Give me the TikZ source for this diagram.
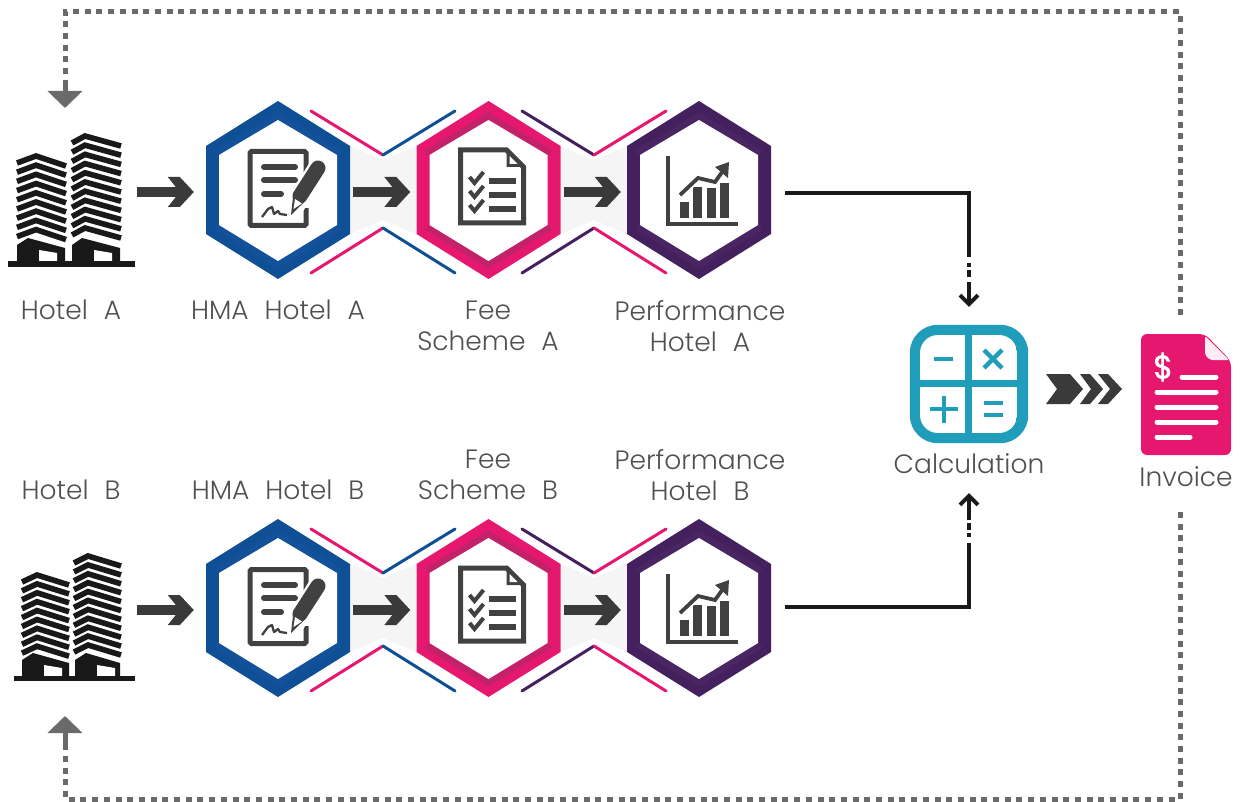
\documentclass[tikz,border=0pt]{standalone}
\usepackage{fontspec}
\setmainfont[WordSpace=2.2]{Poppins Light}
\usetikzlibrary{arrows.meta,calc}
\definecolor{cblue}{HTML}{0F4F96}
\definecolor{cblued}{HTML}{13529A}
\definecolor{cpink}{HTML}{E6176F}
\definecolor{cpinkd}{HTML}{C2226A}
\definecolor{cpurple}{HTML}{45205F}
\definecolor{cpurpled}{HTML}{4A2563}
\definecolor{cteal}{HTML}{1F9DBB}
\definecolor{cdark}{HTML}{3A3A3A}
\definecolor{cicon}{HTML}{414141}
\definecolor{cloop}{HTML}{6A6A6A}
\definecolor{ctext}{HTML}{505050}
\pgfdeclarearrow{name=BlockChev,
  setup code={\pgfarrowssettipend{0pt}\pgfarrowssetlineend{-9pt}\pgfarrowssetbackend{-26pt}\pgfarrowshullpoint{0pt}{0pt}},
  drawing code={\pgfpathmoveto{\pgfqpoint{0pt}{0pt}}
   \pgfpathlineto{\pgfqpoint{-14pt}{15pt}}\pgfpathlineto{\pgfqpoint{-26pt}{15pt}}
   \pgfpathlineto{\pgfqpoint{-14pt}{0pt}}\pgfpathlineto{\pgfqpoint{-26pt}{-15pt}}
   \pgfpathlineto{\pgfqpoint{-14pt}{-15pt}}\pgfpathclose\pgfusepathqfill}}
\tikzset{
  lbl/.style={font=\fontsize{26.5}{31.5}\selectfont,text=ctext,align=center,inner sep=0pt},
  anchorbox/.style={inner sep=0pt,minimum width=#1,minimum height=4pt},
  flow/.style={draw=cdark,line width=10pt,-{BlockChev}},
  feed/.style={draw=black!90,line width=3.4pt},
  feedtip/.style={draw=black!90,line width=3.4pt,-{Straight Barb[length=9pt,width=18pt,line width=3.8pt]}},
  loopline/.style={draw=cloop,line width=5pt,dash pattern=on 6pt off 5.7pt},
  looptip/.style={draw=cloop,line width=5pt,-{Triangle[length=17pt,width=34pt]}},
  bowline/.style={line width=3pt,line cap=round},
}
\newcommand{\hexring}[4]{%
  \fill[#3] (#1,#2-89)--(#1+72,#2-44)--(#1+72,#2+44)--(#1,#2+89)--(#1-72,#2+44)--(#1-72,#2-44)--cycle;
  \draw[#4,line width=6pt] (#1-62,#2-37)--(#1,#2-74)--(#1+62,#2-37);
  \draw[#4,line width=6pt] (#1-62,#2+37)--(#1,#2+75)--(#1+62,#2+37);
  \fill[white] (#1,#2-70)--(#1+59,#2-35)--(#1+59,#2+35)--(#1,#2+71)--(#1-59,#2+35)--(#1-59,#2-35)--cycle;}
\newcommand{\hexjoin}[4]{%
  \fill[black!4] (#1-33,#2-44)--(#1,#2-30)--(#1+33,#2-44)--(#1+33,#2+44)--(#1,#2+30)--(#1-33,#2+44)--cycle;
  \draw[bowline,#3] (#1-72,#2-79)--(#1,#2-35);
  \draw[bowline,#4] (#1,#2-35)--(#1+72,#2-79);
  \draw[bowline,#3] (#1-72,#2+83)--(#1,#2+38);
  \draw[bowline,#4] (#1,#2+38)--(#1+72,#2+83);}
\newcommand{\tower}[6]{%
  \foreach \k in {1,...,#5}{
    \pgfmathsetmacro{\yy}{#4+(\k-1)*#6}
    \draw[black!90,line width=5.6pt,miter limit=6] (#1,\yy+7)--(#2,\yy)--(#3,\yy+10);}}
\newcommand{\towerbase}[6]{%
  \fill[black!90] (#1,#4+7)--(#2,#4)--(#3,#4+10)--(#3,#5)--(#1,#5)--cycle;
  \fill[white] (#6,#5-12)--(#6+18,#5-9)--(#6+18,#5)--(#6,#5)--cycle;}
\newcommand{\iconhma}[2]{%
  \begin{scope}[shift={(#1,#2)}]
  \draw[cicon,line width=5pt,rounded corners=1.5pt,fill=white] (-28,-35.5)--(28,-35.5)--(28,38.5)--(-28,38.5)--cycle;
  \foreach \yy/\xx in {-20/17,-7/17,7/3} \draw[cicon,line width=6pt,line cap=round] (-14,\yy)--(\xx,\yy);
  \draw[white,line width=20pt] (40,-19)--(16,20);
  \fill[white] (25,0) rectangle (31,21);
  \draw[cicon,line width=15pt,line cap=round] (40,-19)--(22,9);
  \fill[cicon] (28.4,13)--(15.6,5)--(13,28)--cycle;
  \fill[white] (15.5,22)--(17,12)--(24,16.5)--cycle;
  \draw[cicon,line width=2.3pt,line join=round] (-16,30)--(-10,22)--(-6,20)--(-4,27)--(0,24)--(2,27)--(9,28);
  \end{scope}}
\newcommand{\iconfee}[2]{%
  \begin{scope}[shift={(#1,#2)}]
  \draw[cicon,line width=5pt,fill=white] (-28,-38)--(18,-38)--(35,-21)--(35,35)--(-28,35)--cycle;
  \fill[cicon] (18,-38)--(18,-21)--(35,-21)--cycle;
  \fill[white] (21,-32)--(21,-24)--(29,-24)--cycle;
  \foreach \yy in {-7,7,21}{
    \draw[cicon,line width=4pt] (-19,\yy-4)--(-14,\yy+2)--(-5,\yy-9);
    \draw[cicon,line width=5.4pt] (0,\yy)--(27,\yy);}
  \end{scope}}
\newcommand{\iconperf}[2]{%
  \begin{scope}[shift={(#1,#2)}]
  \draw[cicon,line width=3.8pt] (-31,-35)--(-31,33)--(39,33);
  \foreach \xx/\yy in {-19/11,-6/-4,8/-3,21/-8} \fill[cicon] (\xx,27)rectangle(\xx+9,\yy);
  \draw[white,line width=7.5pt] (-19,4)--(-1,-13)--(16,-9)--(26,-23);
  \draw[cicon,line width=3.8pt] (-19,4)--(-1,-13)--(16,-9)--(26,-23);
  \fill[cicon] (30,-29)--(16,-24)--(29,-13)--cycle;
  \end{scope}}
\begin{document}
\begin{tikzpicture}[x=1pt,y=-1pt]
\useasboundingbox (0,0) rectangle (1244,802);
\hexjoin{383}{190}{cpink}{cblue}
\hexjoin{594}{190}{cpurple}{cpink}
\hexjoin{383}{608}{cpink}{cblue}
\hexjoin{594}{608}{cpurple}{cpink}
\hexring{278}{190}{cblue}{cblued}
\hexring{488.5}{190}{cpink}{cpinkd}
\hexring{699}{190}{cpurple}{cpurpled}
\hexring{278}{608}{cblue}{cblued}
\hexring{488.5}{608}{cpink}{cpinkd}
\hexring{699}{608}{cpurple}{cpurpled}
\node[anchorbox=144pt] (hA) at (278,192) {};
\node[anchorbox=144pt] (fA) at (488.5,192) {};
\node[anchorbox=144pt] (pA) at (699,192) {};
\node[anchorbox=144pt] (hB) at (278,610) {};
\node[anchorbox=144pt] (fB) at (488.5,610) {};
\node[anchorbox=144pt] (pB) at (699,610) {};
\node[anchorbox=118pt] (hotA) at (76,192) {};
\node[anchorbox=118pt] (hotB) at (78,610) {};
\iconhma{278}{187}\iconfee{488.5}{188}\iconperf{699}{191}
\iconhma{278}{605}\iconfee{488.5}{606}\iconperf{699}{609}
% buildings A
\tower{17}{36}{66}{156}{9}{9.2}
\tower{72}{85}{121}{136}{11}{9.2}
\towerbase{17}{28}{65}{238}{262}{39}
\towerbase{72}{82}{120}{238}{262}{94}
\fill[black!90] (8,261) rectangle (135,267);
% buildings B
\tower{22}{37}{69}{575}{9}{8.9}
\tower{74}{88}{121}{556}{11}{8.9}
\towerbase{22}{33}{69}{653}{677}{44}
\towerbase{75}{86}{120}{653}{677}{97}
\fill[black!90] (14,676) rectangle (135,681);
% flows
\draw[flow] ([xshift=2pt]hotA.east) -- ([xshift=-12pt]hA.west);
\draw[flow] ([xshift=3pt]hA.east) -- ([xshift=-6pt]fA.west);
\draw[flow] ([xshift=3pt]fA.east) -- ([xshift=-6pt]pA.west);
\draw[flow] ([xshift=0pt]hotB.east) -- ([xshift=-12pt]hB.west);
\draw[flow] ([xshift=3pt]hB.east) -- ([xshift=-6pt]fB.west);
\draw[flow] ([xshift=3pt]fB.east) -- ([xshift=-6pt]pB.west);
% calculator
\node[inner sep=0pt,minimum width=118pt,minimum height=118pt] (calc) at (969,384) {};
\fill[cteal,rounded corners=28pt] (calc.north west) rectangle (calc.south east);
\begin{scope}
\clip[rounded corners=18pt] (920,335) rectangle (1017,433);
\fill[white] (920,335) rectangle (965,380);
\fill[white] (972,335) rectangle (1017,380);
\fill[white] (920,387) rectangle (965,433);
\fill[white] (972,387) rectangle (1017,433);
\end{scope}
\draw[cteal,line width=4.5pt] (934,359)--(953,359);
\draw[cteal,line width=4.5pt] (984,350)--(1002,368) (1002,350)--(984,368);
\draw[cteal,line width=4.5pt] (930,409)--(958,409) (944,396)--(944,423);
\draw[cteal,line width=4.5pt] (984,403)--(1003,403) (984,415)--(1003,415);
% invoice
\node[inner sep=0pt,minimum width=90pt,minimum height=121pt] (inv) at (1186,394.5) {};
\fill[cpink,rounded corners=6pt] (1141,334)--(1205,334)--(1231,361)--(1231,455)--(1141,455)--cycle;
\fill[white!92!cpink,rounded corners=2pt] (1205,336)--(1229,360)--(1210,360)--(1205,355)--cycle;
\node[font=\fontsize{32}{32}\selectfont\addfontfeature{FakeBold=3},text=white,inner sep=0pt] at (1163,367) {\$};
\foreach \aa/\bb/\cc in {1182/1216/377,1157/1216/392,1157/1216/407,1157/1216/422,1157/1190/437}
  \draw[white,line width=5pt,line cap=round] (\aa,\cc)--(\bb,\cc);
% triple chevron
\fill[cdark] (1046,374)--(1070,374)--(1083,389)--(1070,404)--(1046,404)--(1057,389)--cycle;
\fill[cdark] (1080,374)--(1090,374)--(1103,389)--(1090,404)--(1080,404)--(1091,389)--cycle;
\fill[cdark] (1098,374)--(1108,374)--(1122,389)--(1108,404)--(1098,404)--(1110,389)--cycle;
% black connectors to calculation
\coordinate (feedA) at (785,193);
\coordinate (feedB) at (785,607);
\coordinate (feedAc) at (calc |- feedA);
\coordinate (feedBc) at (calc |- feedB);
\draw[feed] (feedA) -- (feedAc) -- ($(feedAc)+(0,64)$);
\draw[feed] ($(feedAc)+(0,70)$) -- ($(feedAc)+(0,74)$) ($(feedAc)+(0,77)$) -- ($(feedAc)+(0,84)$);
\draw[feedtip] ($(feedAc)+(0,89)$) -- ($(calc.north)+(0,-18)$);
\draw[feed] (feedB) -- (feedBc) -- ($(feedBc)+(0,-64)$);
\draw[feed] ($(feedBc)+(0,-70)$) -- ($(feedBc)+(0,-74)$) ($(feedBc)+(0,-77)$) -- ($(feedBc)+(0,-84)$);
\draw[feedtip] ($(feedBc)+(0,-87)$) -- ($(calc.south)+(0,50)$);
% loop back
\coordinate (loopT) at (1180,315);
\coordinate (loopB) at (1180,512);
\coordinate (tipA) at (65,108);
\coordinate (tipB) at (65,716);
\draw[loopline] (loopT) -- (1180,12) -- (65,12) -- (65,80);
\draw[looptip] (65,80) -- (tipA);
\draw[loopline] (loopB) -- (1180,799) -- (65,799) -- (65,745);
\draw[looptip] (65,745) -- (tipB);
% labels
\node[lbl] at (71,310) {Hotel A};
\node[lbl] at (278,310) {HMA Hotel A};
\node[lbl] at (488,326) {Fee\\Scheme A};
\node[lbl] at (700,326) {Performance\\Hotel A};
\node[lbl] at (969,464) {Calculation};
\node[lbl] at (1186,477) {Invoice};
\node[lbl] at (71,490) {Hotel B};
\node[lbl] at (278,490) {HMA Hotel B};
\node[lbl] at (488,475) {Fee\\Scheme B};
\node[lbl] at (700,475) {Performance\\Hotel B};
\end{tikzpicture}
\end{document}
